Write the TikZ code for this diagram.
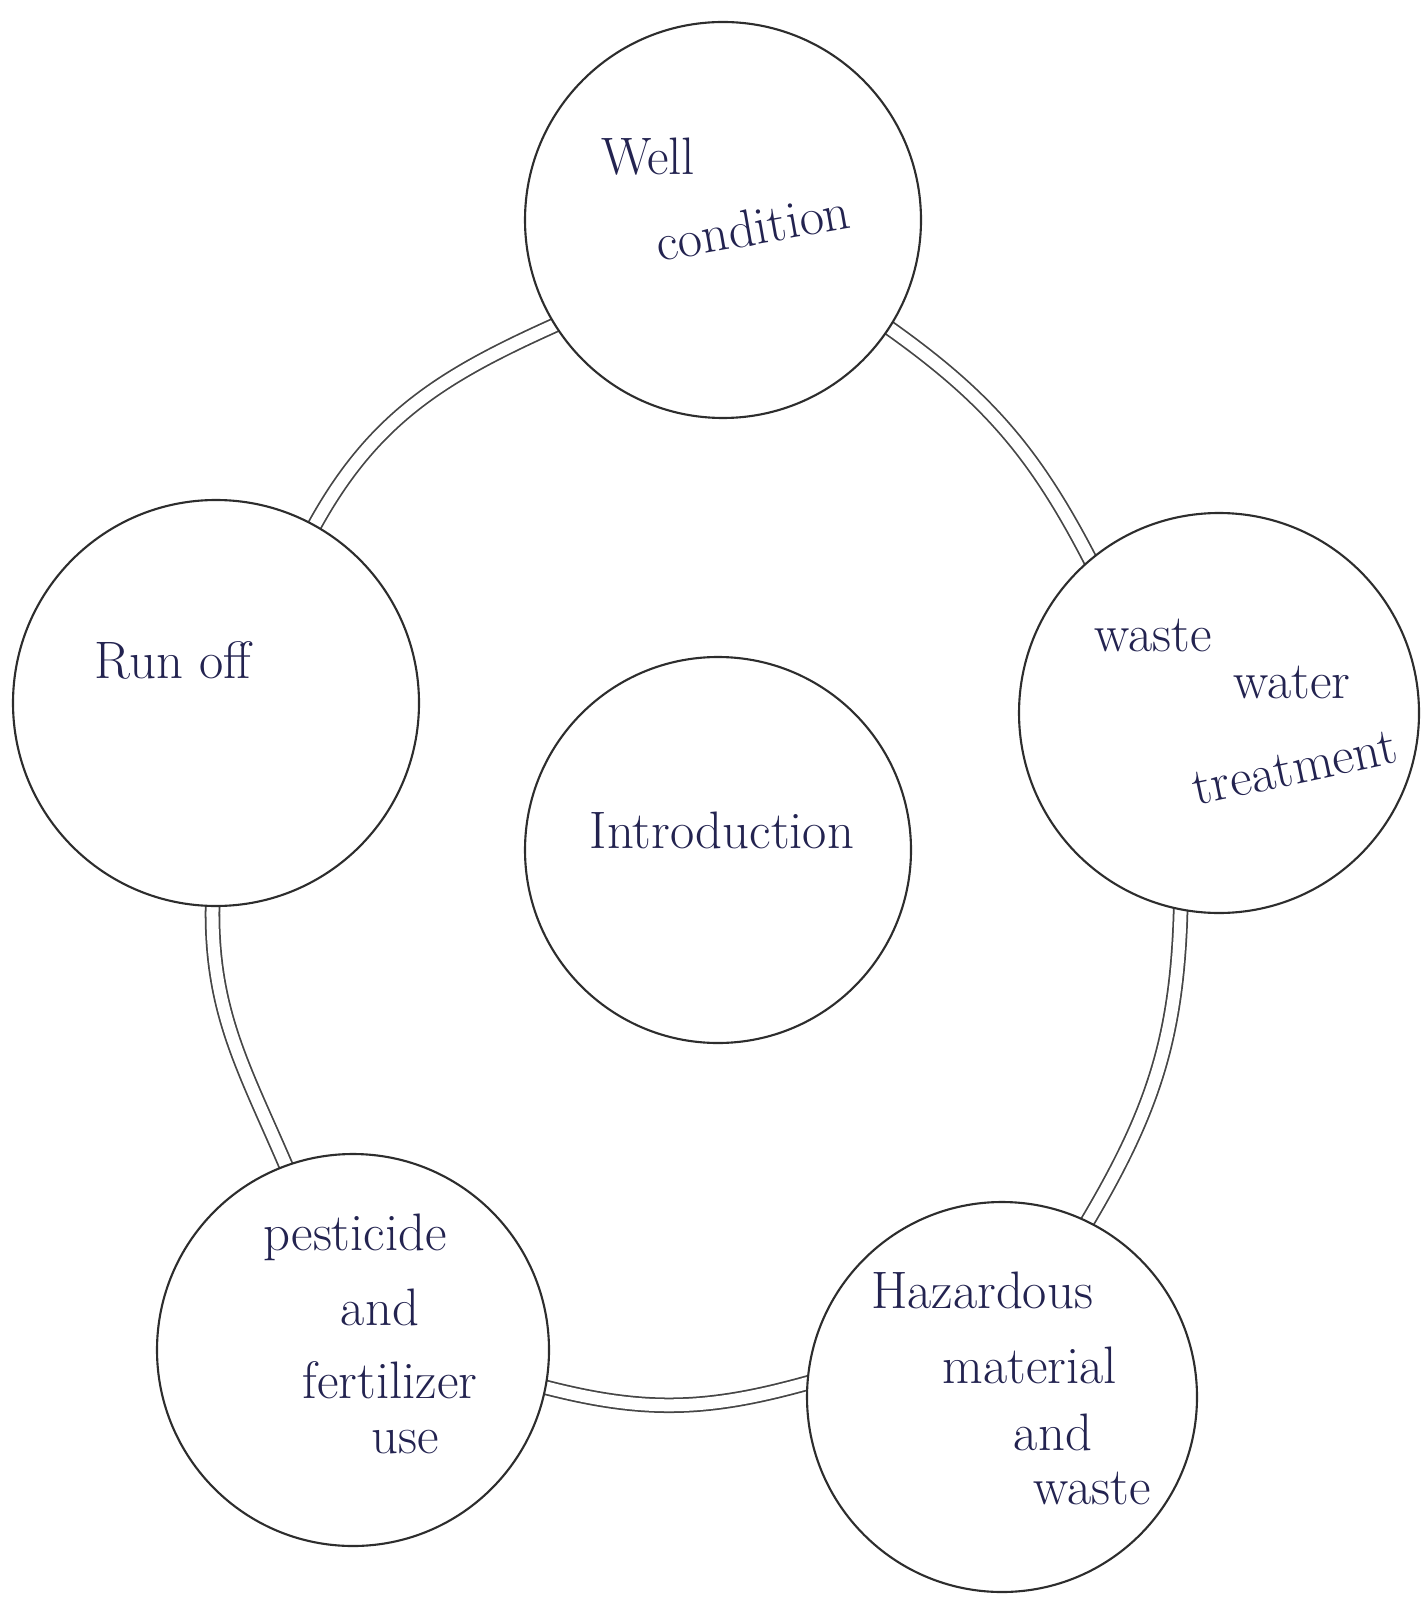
\documentclass[tikz,border=0pt]{standalone}
\usepackage{tikz}
\usetikzlibrary{positioning}
\definecolor{myink}{RGB}{35, 35, 80}
\definecolor{myline}{RGB}{45, 45, 45}
\definecolor{myring}{RGB}{70, 70, 70}
\pgfdeclarelayer{background}
\pgfsetlayers{background,main}
\newcommand*\topicsize{3.96cm}
\tikzstyle{topic}=[draw=myline,circle,fill=white,line width=0.6pt,minimum size=\topicsize,inner sep=0pt]
\tikzstyle{note}=[text=myink,font=\fontsize{15}{18}\selectfont,inner sep=1pt]
\tikzstyle{ring}=[draw=myring,line width=0.5pt,double=white,double distance=1.2mm,shorten <=-1mm,shorten >=-1mm]

\begin{document}
\begin{tikzpicture}[on grid]
      \useasboundingbox (0,0) rectangle (14.22,-15.97);
      % circles
      \node (I) [topic, minimum size=3.86cm] at (7.18,-8.50) {};
      \node (W) [topic] [above right=6.30cm and 0.05cm of I] {};
      \node (R) [topic, minimum size=4.06cm] [above left=1.47cm and 5.02cm of I] {};
      \node (T) [topic, minimum size=4.00cm] [above right=1.37cm and 5.01cm of I] {};
      \node (P) [topic, minimum size=3.92cm] [below left=5.00cm and 3.65cm of I] {};
      \node (H) [topic, minimum size=3.90cm] [below right=5.47cm and 2.84cm of I] {};
      % texts
      \node (I1) [note] at ([shift={(0.04,0.20)}]I) {Introduction};
      \node (W1) [note] at ([shift={(-0.75,0.63)}]W) {Well};
      \node (W2) [note, rotate=10] at ([shift={(0.30,-0.07)}]W) {condition};
      \node (R1) [note] at ([shift={(-0.43,0.43)}]R) {Run off};
      \node (T1) [note] at ([shift={(-0.66,0.78)}]T) {waste};
      \node (T2) [note] at ([shift={(0.73,0.31)}]T) {water};
      \node (T3) [note, rotate=12] at ([shift={(0.76,-0.55)}]T) {treatment};
      \node (P1) [note] at ([shift={(0.02,1.13)}]P) {pesticide};
      \node (P2) [note] at ([shift={(0.27,0.43)}]P) {and};
      \node (P3) [note] at ([shift={(0.37,-0.30)}]P) {fertilizer};
      \node (P4) [note] at ([shift={(0.52,-0.92)}]P) {use};
      \node (H1) [note] at ([shift={(-0.20,1.07)}]H) {Hazardous};
      \node (H2) [note] at ([shift={(0.28,0.32)}]H) {material};
      \node (H3) [note] at ([shift={(0.51,-0.35)}]H) {and};
      \node (H4) [note] at ([shift={(0.90,-0.91)}]H) {waste};
      % outer ring
      \begin{pgfonlayer}{background}
      \draw[ring] (W.327) to[out=-35,in=117] (T.130);
      \draw[ring] (T.259) to[out=-91,in=59] (H.64);
      \draw[ring] (H.176) to[out=196,in=-15] (P.-11);
      \draw[ring] (P.110) to[out=113,in=-92] (R.269);
      \draw[ring] (R.61) to[out=62,in=204] (W.212);
      \end{pgfonlayer}
    \end{tikzpicture}
\end{document}
